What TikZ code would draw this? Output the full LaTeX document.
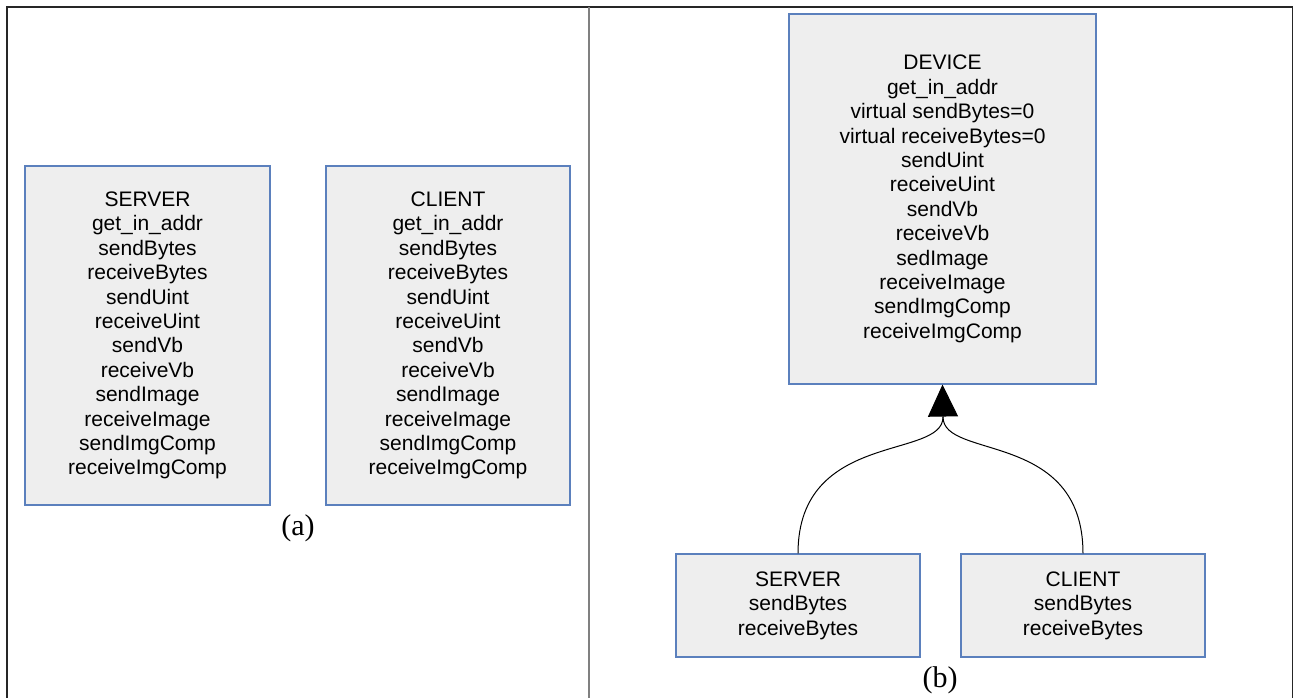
\documentclass[tikz,border=0pt]{standalone}
\usepackage{fontspec}
\setmainfont{Liberation Sans}
\newfontfamily\capfont{Liberation Serif}
\usetikzlibrary{arrows.meta}
\definecolor{boxblue}{RGB}{91,128,189}
\definecolor{boxgray}{RGB}{238,238,238}
\definecolor{divgray}{RGB}{128,128,128}
\tikzset{
  classbox/.style={draw=boxblue, fill=boxgray, line width=1.1pt, inner sep=0pt,
    align=center, font=\fontsize{21}{24.4}\selectfont},
  caplabel/.style={inner sep=0pt, anchor=base, font=\capfont\fontsize{30}{34}\selectfont},
  link/.style={line width=1pt, black},
}
\begin{document}
\begin{tikzpicture}[x=1pt, y=-1pt]
\useasboundingbox (0,0) rectangle (1293,698);
\clip (0,0) rectangle (1293,698);
% outer frame and divider
\draw[line width=1.3pt, black!85] (7,720) -- (7,7) -- (1292.5,7) -- (1292.5,720);
\draw[line width=1.6pt, divgray] (589,7) -- (589,720);

% (a)
\node[classbox, minimum width=245pt, minimum height=339pt] (srvA) at (147.5,335.5)
  {SERVER\\get\_in\_addr\\sendBytes\\receiveBytes\\sendUint\\receiveUint\\sendVb\\receiveVb\\sendImage\\receiveImage\\sendImgComp\\receiveImgComp};
\node[classbox, minimum width=244pt, minimum height=339pt] (cliA) at (448,335.5)
  {CLIENT\\get\_in\_addr\\sendBytes\\receiveBytes\\sendUint\\receiveUint\\sendVb\\receiveVb\\sendImage\\receiveImage\\sendImgComp\\receiveImgComp};
\node[caplabel] (capA) at (298,535) {(a)};

% (b)
\node[classbox, minimum width=307pt, minimum height=370pt] (dev) at (942.5,199)
  {DEVICE\\get\_in\_addr\\virtual sendBytes=0\\virtual receiveBytes=0\\sendUint\\receiveUint\\sendVb\\receiveVb\\sedImage\\receiveImage\\sendImgComp\\receiveImgComp};
\node[classbox, minimum width=244pt, minimum height=103pt] (srvB) at (798,605.5)
  {SERVER\\sendBytes\\receiveBytes};
\node[classbox, minimum width=244pt, minimum height=103pt] (cliB) at (1083,605.5)
  {CLIENT\\sendBytes\\receiveBytes};
\node[caplabel] (capB) at (940,687) {(b)};

% connectors
\coordinate (join) at (943,417);
\draw[link] (srvB.north) .. controls (798,430) and (943,460) .. (join);
\draw[link] (cliB.north) .. controls (1083,430) and (943,460) .. (join);
\draw[link, -{Triangle[length=32pt,width=30pt]}] (join) -- (dev.south);
\end{tikzpicture}
\end{document}
